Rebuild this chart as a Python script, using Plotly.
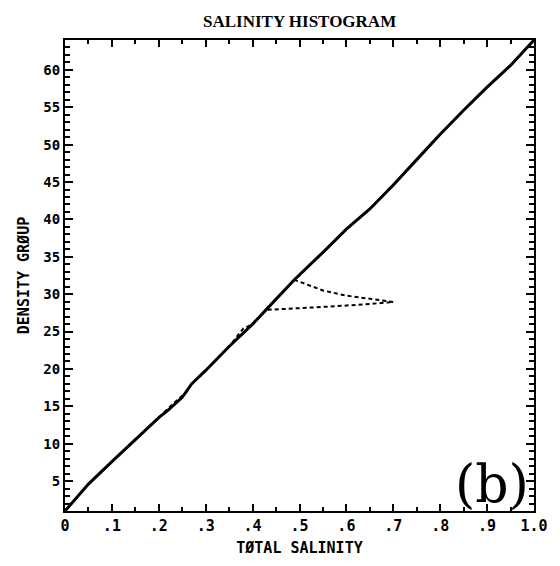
import plotly.graph_objects as go

# Solid curve (total salinity vs density group)
solid_x = [0.0, 0.05, 0.1, 0.15, 0.2, 0.22, 0.25, 0.27, 0.3, 0.35, 0.4, 0.43, 0.49,
           0.55, 0.6, 0.65, 0.7, 0.75, 0.8, 0.85, 0.9, 0.95, 1.0]
solid_y = [1.0, 4.6, 7.6, 10.6, 13.5, 14.5, 16.2, 18.0, 19.8, 23.0, 26.0, 28.0, 32.0,
           35.6, 38.7, 41.4, 44.6, 48.0, 51.4, 54.6, 57.7, 60.6, 64.0]

# Dashed curve (follows solid with an excursion near group 28-32)
dash_x = [0.0, 0.05, 0.1, 0.15, 0.2, 0.23, 0.26, 0.27, 0.3, 0.35, 0.38, 0.4, 0.43,
          0.5, 0.58, 0.65, 0.7, 0.66, 0.6, 0.55, 0.49,
          0.55, 0.6, 0.65, 0.7, 0.75, 0.8, 0.85, 0.9, 0.95, 1.0]
dash_y = [1.0, 4.6, 7.6, 10.6, 13.5, 15.3, 17.0, 18.0, 19.8, 23.0, 25.4, 26.0, 27.9,
          28.1, 28.4, 28.7, 28.95, 29.3, 29.8, 30.5, 31.9,
          35.6, 38.7, 41.4, 44.6, 48.0, 51.4, 54.6, 57.7, 60.6, 64.0]

# Tick labels: default formatted value -> label shown
x_label_alias = {"0.0": "0", "0.1": ".1", "0.2": ".2", "0.3": ".3", "0.4": ".4",
                 "0.5": ".5", "0.6": ".6", "0.7": ".7", "0.8": ".8", "0.9": ".9",
                 "1.0": "1.0"}
y_labels = ["5", "10", "15", "20", "25", "30", "35", "40", "45", "50", "55", "60"]

fig = go.Figure()
fig.add_trace(go.Scatter(x=dash_x, y=dash_y, mode="lines",
                         line=dict(color="black", width=2, dash="4px,3px"),
                         showlegend=False))
fig.add_trace(go.Scatter(x=solid_x, y=solid_y, mode="lines",
                         line=dict(color="black", width=3),
                         showlegend=False))

fig.add_annotation(x=0.91, y=4.6, xref="x", yref="y", text="(b)", showarrow=False,
                   font=dict(family="DejaVu Serif", size=52, color="black"),
                   xanchor="center", yanchor="middle")

fig.update_layout(
    width=560, height=566,
    margin=dict(l=65, r=17, t=40, b=52),
    plot_bgcolor="white",
    title=dict(text="<b>SALINITY HISTOGRAM</b>", x=0.535, xanchor="center", y=0.962,
               yanchor="middle",
               font=dict(family="Liberation Serif", size=17, color="black")),
)
fig.update_xaxes(
    range=[0, 1.0], tickmode="linear", tick0=0, dtick=0.1, tickformat=".1f",
    labelalias={k: "<b>%s</b>" % v for k, v in x_label_alias.items()},
    ticks="inside", ticklen=7, tickwidth=2, tickcolor="black",
    minor=dict(ticks="inside", ticklen=4, tickwidth=2, tickcolor="black", dtick=0.05),
    showline=True, linecolor="black", linewidth=2, mirror="ticks",
    showgrid=False,
    tickfont=dict(family="DejaVu Sans Mono", size=15, color="black"),
    title=dict(text="<b>TØTAL SALINITY</b>", standoff=8,
               font=dict(family="DejaVu Sans Mono", size=15, color="black")),
)
fig.update_yaxes(
    range=[1, 64], tickmode="linear", tick0=0, dtick=5,
    labelalias={v: "<b>%s</b>" % v for v in y_labels},
    ticks="inside", ticklen=8, tickwidth=2, tickcolor="black",
    minor=dict(ticks="inside", ticklen=5, tickwidth=2, tickcolor="black", dtick=1),
    showline=True, linecolor="black", linewidth=2, mirror="ticks",
    showgrid=False,
    tickfont=dict(family="DejaVu Sans Mono", size=14, color="black"),
    title=dict(text="<b>DENSITY GRØUP</b>", standoff=10,
               font=dict(family="DejaVu Sans Mono", size=15, color="black")),
)

fig.write_html("out.html")
